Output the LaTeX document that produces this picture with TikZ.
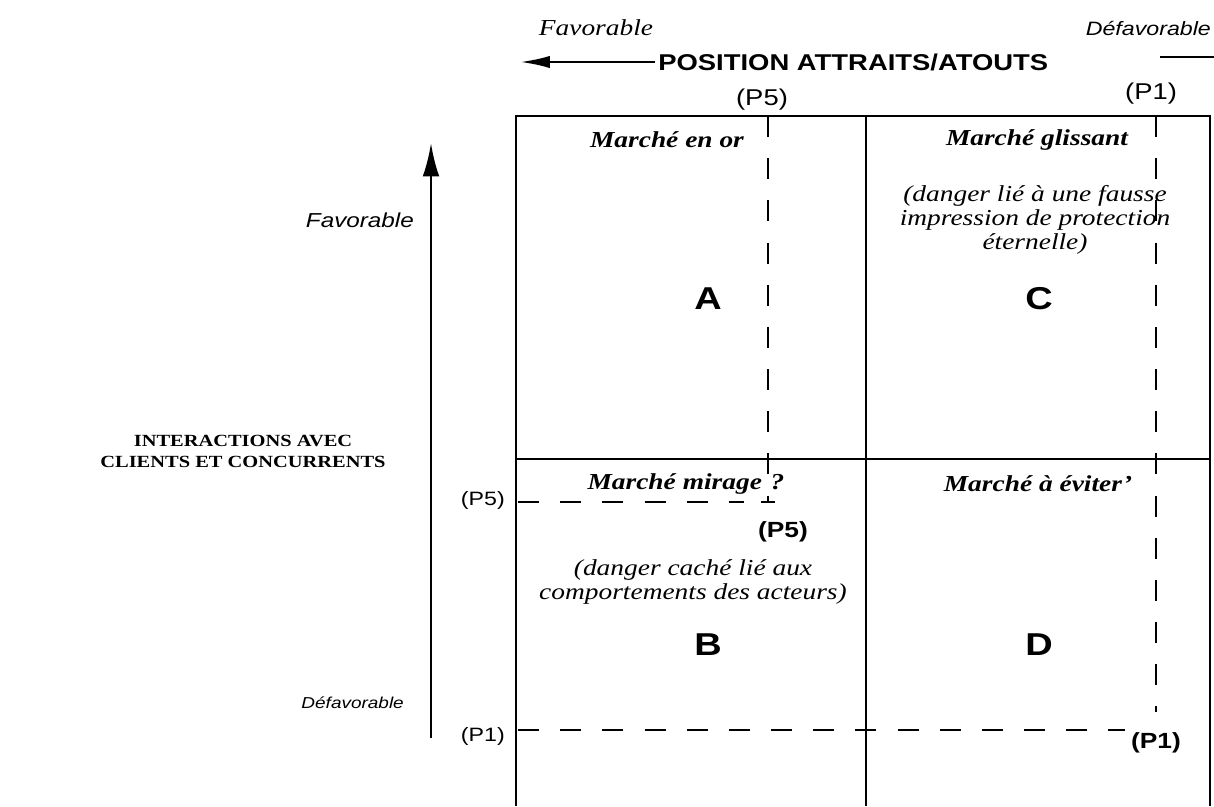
\documentclass[tikz,border=0pt]{standalone}
\usepackage{fontspec}
\setmainfont[FakeStretch=1.2]{Liberation Serif}
\setsansfont[FakeStretch=1.2]{Liberation Sans}
\usetikzlibrary{arrows.meta}
\usetikzlibrary{calc}
\tikzset{>=latex}
\tikzstyle{boxline}=[draw=black,line width=1.4pt]
\tikzstyle{pdash}=[draw=black,line width=1.5pt,dash pattern=on 12pt off 12pt]
\tikzstyle{marche}=[font=\fontsize{13}{15}\selectfont\bfseries\itshape]
\tikzstyle{danger}=[font=\fontsize{13}{13.5}\selectfont\itshape,align=center]
\tikzstyle{quad}=[font=\fontsize{18}{20}\selectfont\sffamily\bfseries]
\tikzstyle{plab}=[font=\fontsize{13}{15}\selectfont\sffamily]
\tikzstyle{pgauche}=[font=\fontsize{11}{13}\selectfont\sffamily]
\tikzstyle{pbold}=[font=\fontsize{12.5}{14}\selectfont\sffamily\bfseries]
\tikzstyle{sidelab}=[font=\fontsize{9}{11}\selectfont\sffamily\itshape]

\begin{document}
\begin{tikzpicture}[x=0.02cm,y=-0.02cm]
  \useasboundingbox (0,0) rectangle (1214,806);
  % grid of the matrix
  \coordinate (tl) at (516,116);
  \coordinate (tm) at (866,116);
  \coordinate (tr) at (1210,116);
  \coordinate (ml) at (516,459);
  \coordinate (mr) at (1210,459);
  \coordinate (bl) at (516,806);
  \coordinate (bm) at (866,806);
  \coordinate (br) at (1210,806);
  \draw[boxline] (bl) -- (tl) -- (tr) -- (br);
  \draw[boxline] (tm) -- (bm);
  \draw[boxline] (ml) -- (mr);

  % positions P5 and P1
  \coordinate (p5top) at (768,116);
  \coordinate (p5end) at (768,502);
  \coordinate (p5left) at (518,502);
  \coordinate (p5right) at (744,502);
  \draw[pdash] (p5top) -- (p5end);
  \draw[line width=1.3pt] ($(p5end)+(-7,0)$) -- ($(p5end)+(7,0)$);
  \draw[pdash] (p5left) -- (p5right);
  \coordinate (p1top) at (1156,116);
  \coordinate (p1end) at (1156,712);
  \coordinate (p1left) at (518,730);
  \coordinate (p1right) at (1125,730);
  \draw[pdash] (p1top) -- (p1end);
  \draw[pdash] (p1left) -- (p1right);

  % axes
  \coordinate (vbot) at (431,738);
  \coordinate (vtop) at (431,143);
  \draw[line width=1.5pt,-{Latex[length=19pt,width=9.5pt]}] (vbot) -- (vtop);
  \node[anchor=west,inner sep=0pt,font=\fontsize{13}{15}\selectfont\sffamily\bfseries] (titre) at (658,62) {POSITION ATTRAITS/ATOUTS};
  \coordinate (hgauche) at (520,62);
  \draw[line width=1.5pt,-{Latex[length=17pt,width=7pt]}] ($(titre.west)+(-3,0)$) -- (hgauche);
  \coordinate (hdroite) at (1214,57);
  \coordinate (hdebut) at (1160,57);
  \draw[line width=1.5pt] (hdebut) -- (hdroite);
  \node[font=\fontsize{13}{15}\selectfont\itshape] (favh) at (596,28) {Favorable};
  \node[anchor=east,inner sep=1pt,font=\fontsize{11}{13}\selectfont\sffamily\itshape] (defh) at (1213,28) {Défavorable};
  \node[anchor=east,font=\fontsize{11.5}{13}\selectfont\sffamily\itshape] (favv) at (420,220) {Favorable};
  \node[anchor=east,sidelab] (defv) at (410,703) {Défavorable};
  \node[align=center,font=\fontsize{9.7}{12}\selectfont\bfseries] (inter) at (243,451) {INTERACTIONS AVEC\\CLIENTS ET CONCURRENTS};

  % P labels
  \node[plab] (p5h) at (762,100) {(P5)};
  \node[plab] (p1h) at (1151,94) {(P1)};
  \node[pgauche,anchor=east] (p5g) at (511,500) {(P5)};
  \node[pgauche,anchor=east] (p1g) at (511,736) {(P1)};
  \node[pbold] (p5b) at (783,532) {(P5)};
  \node[pbold] (p1b) at (1156,743) {(P1)};

  % quadrants
  \node[marche] (tA) at (667,140) {Marché en or};
  \node[marche] (tC) at (1037,140) {Marché glissant};
  \node[marche] (tB) at (686,484) {Marché mirage\hspace{5pt}?};
  \node[marche] (tD) at (1038,484) {Marché à éviter'};
  \node[danger] (dC) at (1035,220) {(danger lié à une fausse\\impression de protection\\éternelle)};
  \node[danger] (dB) at (693,582) {(danger caché lié aux\\comportements des acteurs)};
  \node[quad] (qA) at (708,299) {A};
  \node[quad] (qC) at (1039,299) {C};
  \node[quad] (qB) at (708,645) {B};
  \node[quad] (qD) at (1039,645) {D};
\end{tikzpicture}
\end{document}
